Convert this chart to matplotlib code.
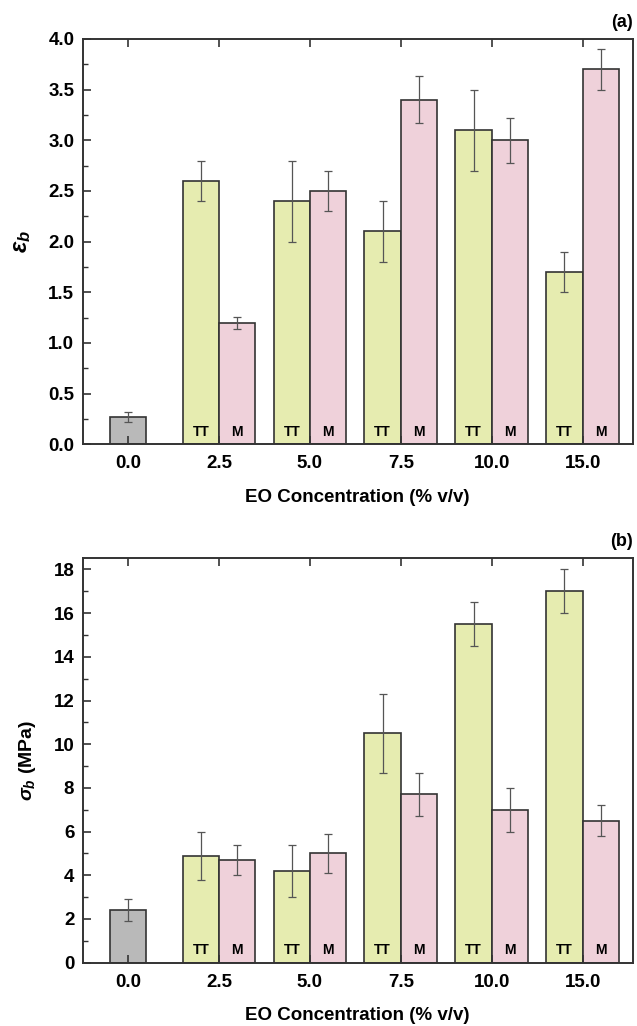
import matplotlib
matplotlib.use("Agg")
import matplotlib.pyplot as plt
import numpy as np
from matplotlib.ticker import MultipleLocator, AutoMinorLocator

plt.rcParams["font.family"] = ["Liberation Sans", "DejaVu Sans"]
plt.rcParams["font.weight"] = "bold"
plt.rcParams["mathtext.fontset"] = "custom"
plt.rcParams["mathtext.rm"] = "Liberation Sans"
plt.rcParams["mathtext.it"] = "Liberation Sans:italic"
plt.rcParams["mathtext.bf"] = "Liberation Sans:bold"

# Data
conc_labels = ["0.0", "2.5", "5.0", "7.5", "10.0", "15.0"]

# (a) elongation at break
eps_ctrl, eps_ctrl_err = 0.27, 0.05
eps_tt = [2.6, 2.4, 2.1, 3.1, 1.7]
eps_tt_err = [0.2, 0.4, 0.3, 0.4, 0.2]
eps_m = [1.2, 2.5, 3.4, 3.0, 3.7]
eps_m_err = [0.06, 0.2, 0.23, 0.22, 0.2]

# (b) tensile strength (MPa)
sig_ctrl, sig_ctrl_err = 2.4, 0.5
sig_tt = [4.9, 4.2, 10.5, 15.5, 17.0]
sig_tt_err = [1.1, 1.2, 1.8, 1.0, 1.0]
sig_m = [4.7, 5.0, 7.7, 7.0, 6.5]
sig_m_err = [0.7, 0.9, 1.0, 1.0, 0.7]

C_CTRL = "#b9b9b9"
C_TT = "#e6ecb0"
C_M = "#efd1da"
EDGE = "#333333"
ERR = "#555555"

fig = plt.figure(figsize=(6.37, 10.26), dpi=100)
ax_a = fig.add_axes([0.1298, 0.5670, 0.8634, 0.3950])
ax_b = fig.add_axes([0.1298, 0.0617, 0.8634, 0.3946])

width = 0.40
x = np.arange(len(conc_labels))


def draw_panel(ax, ctrl, ctrl_err, tt, tt_err, m, m_err, ylim, major, ylabel, ysize, tag):
    err_kw = dict(ecolor=ERR, elinewidth=0.9, capsize=3, capthick=0.9)
    ax.bar(x[0], ctrl, width, yerr=ctrl_err, color=C_CTRL, edgecolor=EDGE,
           linewidth=1.2, error_kw=err_kw)
    ax.bar(x[1:] - width / 2, tt, width, yerr=tt_err, color=C_TT, edgecolor=EDGE,
           linewidth=1.2, error_kw=err_kw)
    ax.bar(x[1:] + width / 2, m, width, yerr=m_err, color=C_M, edgecolor=EDGE,
           linewidth=1.2, error_kw=err_kw)

    for xi in x[1:]:
        ax.annotate("TT", (xi - width / 2, 0), xytext=(0, 4), textcoords="offset points",
                    ha="center", va="bottom", fontsize=10, fontweight="bold")
        ax.annotate("M", (xi + width / 2, 0), xytext=(0, 4), textcoords="offset points",
                    ha="center", va="bottom", fontsize=10, fontweight="bold")

    ax.set_xlim(-0.5, 5.55)
    ax.set_ylim(*ylim)
    ax.set_xticks(x)
    ax.set_xticklabels(conc_labels)
    ax.yaxis.set_major_locator(MultipleLocator(major))
    ax.yaxis.set_minor_locator(AutoMinorLocator(2))
    if major < 1:
        ax.yaxis.set_major_formatter(plt.FormatStrFormatter("%.1f"))
    ax.tick_params(axis="x", which="both", direction="in", top=True, bottom=True,
                   length=6, width=1.2, color=EDGE, labelsize=13.5, pad=8)
    ax.tick_params(axis="y", which="major", direction="in", length=6, width=1.2,
                   color=EDGE, labelsize=13.5, pad=6)
    ax.tick_params(axis="y", which="minor", direction="in", length=3.5, width=1.0,
                   color=EDGE)
    for sp in ax.spines.values():
        sp.set_linewidth(1.4)
        sp.set_color(EDGE)
    for lab in ax.get_xticklabels() + ax.get_yticklabels():
        lab.set_fontweight("bold")

    ax.set_xlabel("EO Concentration (% v/v)", fontsize=13.5, fontweight="bold", labelpad=12)
    ax.set_ylabel(ylabel, fontsize=ysize, fontweight="bold", labelpad=11)
    ax.text(1.0, 1.02, tag, transform=ax.transAxes, ha="right", va="bottom",
            fontsize=13, fontweight="bold")


draw_panel(ax_a, eps_ctrl, eps_ctrl_err, eps_tt, eps_tt_err, eps_m, eps_m_err,
           (0, 4.0), 0.5, r"$\varepsilon_b$", 17, "(a)")
draw_panel(ax_b, sig_ctrl, sig_ctrl_err, sig_tt, sig_tt_err, sig_m, sig_m_err,
           (0, 18.53), 2, r"$\sigma_b$ (MPa)", 14, "(b)")

fig.savefig("out.png", dpi=100, facecolor="white")
